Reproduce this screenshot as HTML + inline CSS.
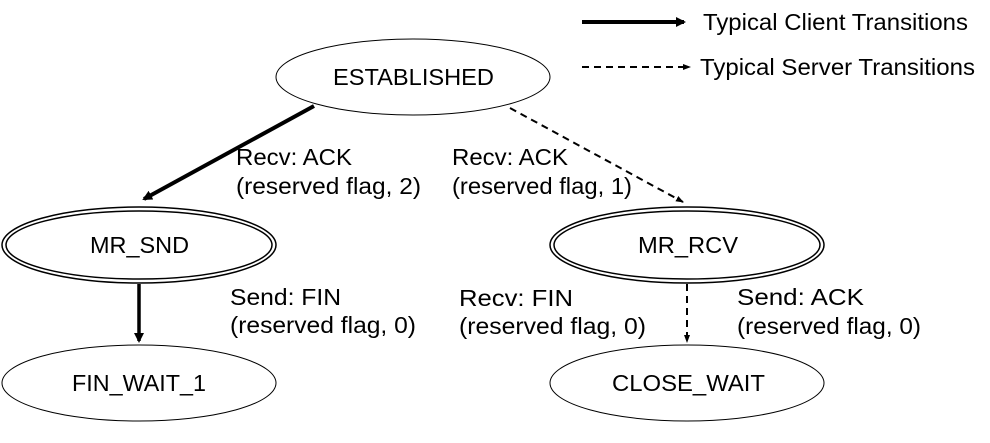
<!DOCTYPE html>
<html><head><style>body{margin:0;background:#fff}svg{display:block}text{font-family:"Liberation Sans",Arial,sans-serif;font-size:23px;fill:#000}</style></head><body>
<svg width="990" height="443" viewBox="0 0 990 443">
<defs>
<marker id="a" markerWidth="10" markerHeight="10" refX="8" refY="5" orient="auto" markerUnits="userSpaceOnUse"><path d="M0,0 L10,5 L0,10 Z"/></marker>
<marker id="b" markerWidth="8" markerHeight="8" refX="7" refY="4" orient="auto" markerUnits="userSpaceOnUse"><path d="M0,1 L8,4 L0,7 Z"/></marker>
</defs>
<g fill="none" stroke="#000" stroke-width="1">
<ellipse cx="413" cy="77" rx="137" ry="38"/>
<ellipse cx="139" cy="245" rx="137" ry="38" stroke-width="1.5"/><ellipse cx="139" cy="245" rx="133" ry="34" stroke-width="1.5"/>
<ellipse cx="687" cy="245" rx="137" ry="38" stroke-width="1.5"/><ellipse cx="687" cy="245" rx="133" ry="34" stroke-width="1.5"/>
<ellipse cx="139" cy="383" rx="137" ry="38"/>
<ellipse cx="687" cy="383" rx="137" ry="38"/>
</g>
<g stroke="#000" fill="none">
<line x1="314" y1="106" x2="144" y2="199" stroke-width="4" marker-end="url(#a)"/>
<line x1="510" y1="108" x2="683" y2="202" stroke-width="2" stroke-dasharray="7,5" marker-end="url(#b)"/>
<line x1="139" y1="284" x2="139" y2="341" stroke-width="3.5" marker-end="url(#a)"/>
<line x1="687" y1="284" x2="687" y2="342" stroke-width="2" stroke-dasharray="7,5" marker-end="url(#b)"/>
<line x1="582" y1="22" x2="684" y2="22" stroke-width="4" marker-end="url(#a)"/>
<line x1="582" y1="67" x2="690" y2="67" stroke-width="2" stroke-dasharray="7,5" marker-end="url(#b)"/>
</g>
<g>
<text x="703" y="30" textLength="265" lengthAdjust="spacingAndGlyphs">Typical Client Transitions</text>
<text x="700" y="75" textLength="275" lengthAdjust="spacingAndGlyphs">Typical Server Transitions</text>
<text x="333" y="85" textLength="161" lengthAdjust="spacingAndGlyphs">ESTABLISHED</text>
<text x="90" y="253" textLength="99" lengthAdjust="spacingAndGlyphs">MR_SND</text>
<text x="638" y="253" textLength="100" lengthAdjust="spacingAndGlyphs">MR_RCV</text>
<text x="72" y="391" textLength="134" lengthAdjust="spacingAndGlyphs">FIN_WAIT_1</text>
<text x="612" y="391" textLength="153" lengthAdjust="spacingAndGlyphs">CLOSE_WAIT</text>
<text x="236" y="165" textLength="116" lengthAdjust="spacingAndGlyphs">Recv: ACK</text>
<text x="236" y="194" textLength="185" lengthAdjust="spacingAndGlyphs">(reserved flag, 2)</text>
<text x="452" y="165" textLength="116" lengthAdjust="spacingAndGlyphs">Recv: ACK</text>
<text x="452" y="194" textLength="180" lengthAdjust="spacingAndGlyphs">(reserved flag, 1)</text>
<text x="230" y="305" textLength="111" lengthAdjust="spacingAndGlyphs">Send: FIN</text>
<text x="230" y="333" textLength="186" lengthAdjust="spacingAndGlyphs">(reserved flag, 0)</text>
<text x="459" y="306" textLength="114" lengthAdjust="spacingAndGlyphs">Recv: FIN</text>
<text x="459" y="334" textLength="187" lengthAdjust="spacingAndGlyphs">(reserved flag, 0)</text>
<text x="737" y="305" textLength="127" lengthAdjust="spacingAndGlyphs">Send: ACK</text>
<text x="737" y="334" textLength="184" lengthAdjust="spacingAndGlyphs">(reserved flag, 0)</text>
</g>
</svg>
</body></html>
